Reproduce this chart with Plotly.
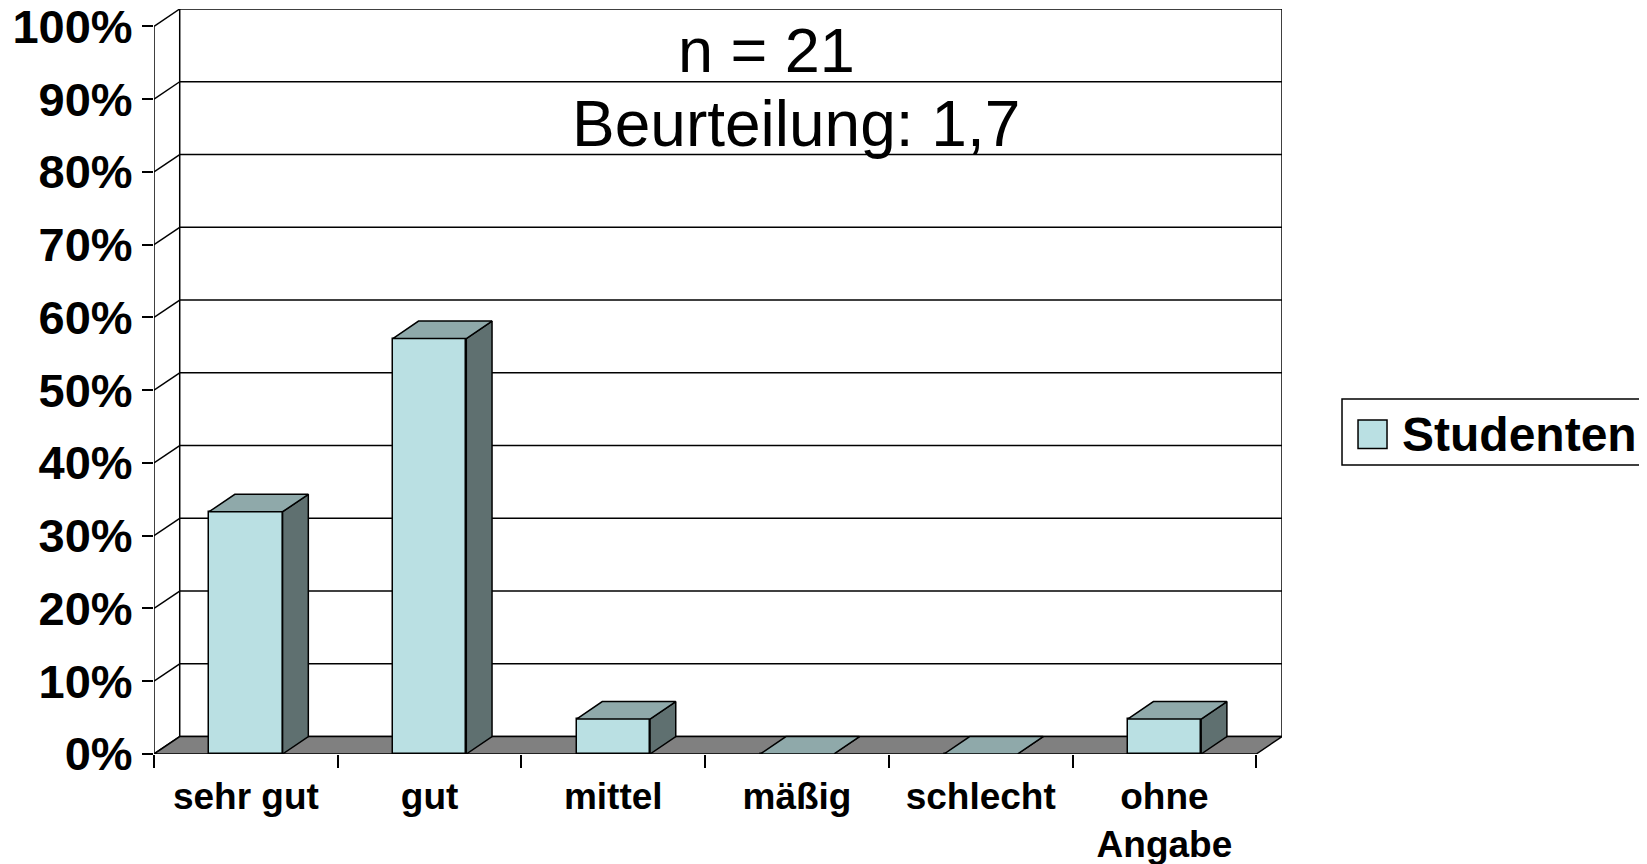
import plotly.graph_objects as go

# ---- data ----
categories = ["sehr gut", "gut", "mittel", "mäßig", "schlecht", "ohne<br>Angabe"]
values = [33.3, 57.1, 4.8, 0.0, 0.0, 4.8]
series_name = "Studenten"
y_ticks = [0, 10, 20, 30, 40, 50, 60, 70, 80, 90, 100]
y_tick_labels = ["0%", "10%", "20%", "30%", "40%", "50%", "60%", "70%", "80%", "90%", "100%"]
title_lines = ["n = 21", "Beurteilung: 1,7"]

# ---- style ----
FRONT = "#BAE0E3"
TOP = "#8FA9AA"
SIDE = "#5F7070"
FLOOR = "#808080"
EDGE = "black"
BAR_W = 0.4
DX = 0.14   # depth offset in category units
DY = 2.4    # depth offset in percent units
FONT = "Arial, Liberation Sans, sans-serif"

n = len(categories)
xs = list(range(n))
x_left, x_right = -0.5, n - 0.5
boundaries = [x_left + i for i in range(n + 1)]

fig = go.Figure()

# front faces
fig.add_trace(go.Bar(x=xs, y=values, width=BAR_W, name=series_name,
                     marker=dict(color=FRONT, line=dict(color=EDGE, width=1.5)),
                     showlegend=False, hoverinfo="skip"))

# side faces
sx, sy = [], []
for x, v in zip(xs, values):
    r = x + BAR_W / 2
    sx += [r, r + DX, r + DX, r, r, None]
    sy += [0, DY, v + DY, v, 0, None]
fig.add_trace(go.Scatter(x=sx, y=sy, mode="lines", fill="toself", fillcolor=SIDE,
                         line=dict(color=EDGE, width=1.5), showlegend=False, hoverinfo="skip"))

# top faces
tx, ty = [], []
for x, v in zip(xs, values):
    l, r = x - BAR_W / 2, x + BAR_W / 2
    tx += [l, r, r + DX, l + DX, l, None]
    ty += [v, v, v + DY, v + DY, v, None]
fig.add_trace(go.Scatter(x=tx, y=ty, mode="lines", fill="toself", fillcolor=TOP,
                         line=dict(color=EDGE, width=1.5), showlegend=False, hoverinfo="skip"))

shapes = []
line_style = dict(color=EDGE, width=1.5)
# back wall grid lines and left-wall diagonals
for v in y_ticks:
    shapes.append(dict(type="line", xref="x", yref="y", x0=x_left + DX, x1=x_right + DX,
                       y0=v + DY, y1=v + DY, line=line_style, layer="below"))
    shapes.append(dict(type="line", xref="x", yref="y", x0=x_left, x1=x_left + DX,
                       y0=v, y1=v + DY, line=line_style, layer="below"))
# back wall verticals
for xb in (x_left + DX, x_right + DX):
    shapes.append(dict(type="line", xref="x", yref="y", x0=xb, x1=xb,
                       y0=DY, y1=y_ticks[-1] + DY, line=line_style, layer="below"))
# front value axis
shapes.append(dict(type="line", xref="x", yref="y", x0=x_left, x1=x_left,
                   y0=0, y1=y_ticks[-1], line=line_style, layer="below"))
# floor
shapes.append(dict(type="path", xref="x", yref="y",
                   path=f"M {x_left},0 L {x_right},0 L {x_right + DX},{DY} L {x_left + DX},{DY} Z",
                   fillcolor=FLOOR, line=line_style, layer="below"))

# legend (drawn manually)
shapes.append(dict(type="rect", xref="paper", yref="paper", x0=1.0532, x1=1.3191,
                   y0=0.3879, y1=0.4765, line=dict(color=EDGE, width=1.5), fillcolor="white"))
shapes.append(dict(type="rect", xref="paper", yref="paper", x0=1.0674, x1=1.0931,
                   y0=0.4101, y1=0.4483, line=dict(color=EDGE, width=1.5), fillcolor=FRONT))

annotations = [
    dict(text=title_lines[0], xref="paper", yref="paper", x=0.5426, y=0.945,
         showarrow=False, font=dict(family=FONT, size=63, color="black"),
         xanchor="center", yanchor="middle"),
    dict(text=title_lines[1], xref="paper", yref="paper", x=0.569, y=0.8456,
         showarrow=False, font=dict(family=FONT, size=64, color="black"),
         xanchor="center", yanchor="middle"),
    dict(text=series_name, xref="paper", yref="paper", x=1.1047, y=0.4282,
         showarrow=False, font=dict(family=FONT, size=48, color="black", weight="bold"),
         xanchor="left", yanchor="middle"),
]

fig.update_layout(
    width=1647, height=864,
    margin=dict(l=146, r=373, t=1, b=118, autoexpand=False),
    paper_bgcolor="white", plot_bgcolor="white",
    shapes=shapes, annotations=annotations,
    showlegend=False, bargap=0,
    xaxis=dict(type="linear", range=[x_left, x_right + DX], tickmode="array",
               tickvals=xs, ticktext=categories, ticks="", showgrid=False,
               zeroline=False, showline=False, ticklabelstandoff=17, automargin=False,
               ticklabeloverflow="allow",
               tickfont=dict(family=FONT, size=37, color="black", weight="bold"),
               minor=dict(tickmode="array", tickvals=boundaries, ticks="outside",
                          ticklen=13, tickwidth=1.5, tickcolor=EDGE, showgrid=False)),
    yaxis=dict(range=[0, y_ticks[-1] + DY], tickmode="array", tickvals=y_ticks,
               ticktext=y_tick_labels, ticks="outside", ticklen=11, tickwidth=1.5,
               tickcolor=EDGE, showgrid=False, zeroline=False, showline=False,
               ticklabelstandoff=0, automargin=False, ticklabeloverflow="allow",
               tickfont=dict(family=FONT, size=47, color="black", weight="bold")),
)

fig.write_html("out.html")
